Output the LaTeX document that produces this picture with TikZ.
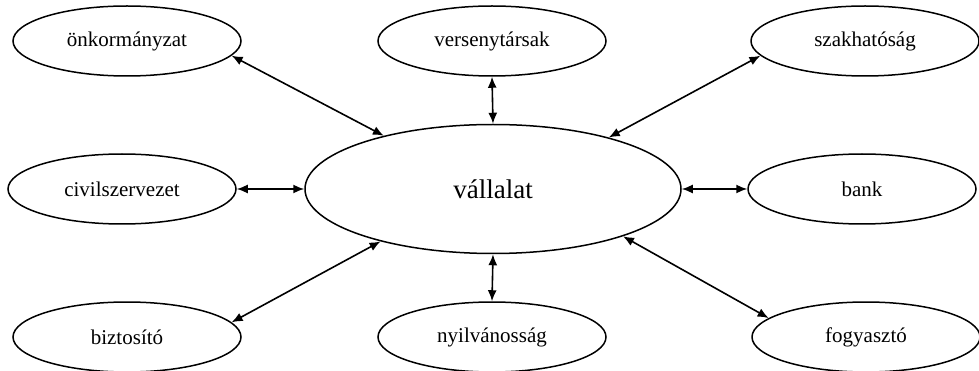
\documentclass[tikz,border=0pt]{standalone}
\usepackage{fontspec}
\setmainfont{Liberation Serif}
\usetikzlibrary{shapes.geometric,arrows.meta}
\tikzset{
  party/.style={ellipse, draw, line width=1.5pt, minimum width=228pt, minimum height=70pt, inner sep=0pt, font=\fontsize{21}{25}\selectfont},
  core/.style={ellipse, draw, line width=1.5pt, minimum width=376pt, minimum height=129pt, inner sep=0pt, font=\fontsize{27}{32}\selectfont},
  link/.style={line width=1.6pt, {Latex[length=11pt,width=9pt]}-{Latex[length=11pt,width=9pt]}}
}
\begin{document}
\begin{tikzpicture}[x=1pt,y=-1pt]
\useasboundingbox (0,0) rectangle (979,371);
\node[core] (v) at (493,189) {vállalat};
\node[party] (onk) at (127,41) {önkormányzat};
\node[party] (ver) at (492,41) {versenytársak};
\node[party] (sza) at (865,41) {szakhatóság};
\node[party] (civ) at (122,189) {civilszervezet};
\node[party] (bank) at (862,189) {bank};
\node[party] (biz) at (127,337) {biztosító};
\node[party] (nyi) at (492,337) {nyilvánosság};
\node[party] (fog) at (866,337) {fogyasztó};
\draw[link] (onk.-8) -- (v.154);
\draw[link] (ver.south) -- (v.north);
\draw[link] (sza.188) -- (v.24);
\draw[link] (civ.east) -- (v.west);
\draw[link] (bank.west) -- (v.east);
\draw[link] (biz.8) -- (v.205);
\draw[link] (nyi.north) -- (v.south);
\draw[link] (fog.169) -- (v.340);
\end{tikzpicture}
\end{document}
